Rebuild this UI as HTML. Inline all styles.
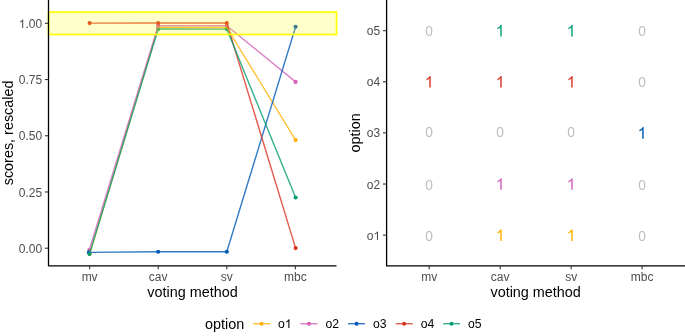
<!DOCTYPE html><html><head><meta charset="utf-8"><title>scores by voting method</title><style>html,body{margin:0;padding:0;background:#fff;overflow:hidden;}svg{display:block;will-change:transform;}</style></head><body>
<svg width="685" height="336" viewBox="0 0 685 336" font-family='"Liberation Sans", sans-serif'>
<rect width="685" height="336" fill="#fff"/>
<circle cx="89.60" cy="254.00" r="2.05" fill="#FFB000"/>
<circle cx="158.20" cy="27.50" r="2.05" fill="#FFB000"/>
<circle cx="226.80" cy="27.50" r="2.05" fill="#FFB000"/>
<circle cx="295.60" cy="140.10" r="2.05" fill="#FFB000"/>
<circle cx="89.30" cy="250.00" r="2.05" fill="#D35FB7"/>
<circle cx="158.20" cy="25.60" r="2.05" fill="#D35FB7"/>
<circle cx="226.80" cy="25.70" r="2.05" fill="#D35FB7"/>
<circle cx="295.60" cy="81.90" r="2.05" fill="#D35FB7"/>
<circle cx="88.90" cy="252.40" r="2.05" fill="#005AB5"/>
<circle cx="158.20" cy="251.70" r="2.05" fill="#005AB5"/>
<circle cx="226.80" cy="251.70" r="2.05" fill="#005AB5"/>
<circle cx="295.60" cy="26.80" r="2.05" fill="#005AB5"/>
<circle cx="89.60" cy="23.10" r="2.05" fill="#DC3220"/>
<circle cx="158.20" cy="23.00" r="2.05" fill="#DC3220"/>
<circle cx="226.80" cy="23.00" r="2.05" fill="#DC3220"/>
<circle cx="295.60" cy="248.10" r="2.05" fill="#DC3220"/>
<circle cx="89.50" cy="254.00" r="2.05" fill="#009E73"/>
<circle cx="158.20" cy="29.00" r="2.05" fill="#009E73"/>
<circle cx="226.80" cy="29.10" r="2.05" fill="#009E73"/>
<circle cx="295.60" cy="197.50" r="2.05" fill="#009E73"/>
<polyline points="89.60,254.00 158.20,27.50 226.80,27.50 295.60,140.10" fill="none" stroke="#FFB000" stroke-width="1.4" stroke-opacity="0.8" stroke-linejoin="round"/>
<polyline points="89.30,250.00 158.20,25.60 226.80,25.70 295.60,81.90" fill="none" stroke="#D35FB7" stroke-width="1.4" stroke-opacity="0.8" stroke-linejoin="round"/>
<polyline points="88.90,252.40 158.20,251.70 226.80,251.70 295.60,26.80" fill="none" stroke="#005AB5" stroke-width="1.4" stroke-opacity="0.8" stroke-linejoin="round"/>
<polyline points="89.60,23.10 158.20,23.00 226.80,23.00 295.60,248.10" fill="none" stroke="#DC3220" stroke-width="1.4" stroke-opacity="0.8" stroke-linejoin="round"/>
<polyline points="89.50,254.00 158.20,29.00 226.80,29.10 295.60,197.50" fill="none" stroke="#009E73" stroke-width="1.4" stroke-opacity="0.8" stroke-linejoin="round"/>
<rect x="48.50" y="12.05" width="288.00" height="22.49" fill="#FFFF00" fill-opacity="0.2" stroke="#FFFF00" stroke-width="1.7"/>
<path d="M48.5 0V265.9H336.5" fill="none" stroke="#000000" stroke-width="1.3" stroke-linecap="butt" stroke-linejoin="round"/>
<line x1="44.90" y1="23.30" x2="48.5" y2="23.30" stroke="#333333" stroke-width="1.1"/>
<text x="42.10" y="28" font-size="12" fill="#4D4D4D" text-anchor="end">.00</text>
<path transform="translate(18.75,28.00) scale(0.005859,-0.005859)" d="M763 0H583V1147Q518 1085 412.5 1023Q307 961 223 930V1104Q374 1175 487 1276Q600 1377 647 1472H763Z" fill="#4D4D4D"/>
<line x1="44.90" y1="79.52" x2="48.5" y2="79.52" stroke="#333333" stroke-width="1.1"/>
<text x="42.10" y="84" font-size="12" fill="#4D4D4D" text-anchor="end">0.75</text>
<line x1="44.90" y1="135.75" x2="48.5" y2="135.75" stroke="#333333" stroke-width="1.1"/>
<text x="42.10" y="140" font-size="12" fill="#4D4D4D" text-anchor="end">0.50</text>
<line x1="44.90" y1="191.97" x2="48.5" y2="191.97" stroke="#333333" stroke-width="1.1"/>
<text x="42.10" y="197" font-size="12" fill="#4D4D4D" text-anchor="end">0.25</text>
<line x1="44.90" y1="248.20" x2="48.5" y2="248.20" stroke="#333333" stroke-width="1.1"/>
<text x="42.10" y="253" font-size="12" fill="#4D4D4D" text-anchor="end">0.00</text>
<line x1="89.64" y1="265.9" x2="89.64" y2="269.30" stroke="#333333" stroke-width="1.1"/>
<text x="89.64" y="280.6" font-size="12" fill="#4D4D4D" text-anchor="middle">mv</text>
<line x1="158.21" y1="265.9" x2="158.21" y2="269.30" stroke="#333333" stroke-width="1.1"/>
<text x="158.21" y="280.6" font-size="12" fill="#4D4D4D" text-anchor="middle">cav</text>
<line x1="226.79" y1="265.9" x2="226.79" y2="269.30" stroke="#333333" stroke-width="1.1"/>
<text x="226.79" y="280.6" font-size="12" fill="#4D4D4D" text-anchor="middle">sv</text>
<line x1="295.36" y1="265.9" x2="295.36" y2="269.30" stroke="#333333" stroke-width="1.1"/>
<text x="295.36" y="280.6" font-size="12" fill="#4D4D4D" text-anchor="middle">mbc</text>
<text x="192.50" y="296.9" font-size="14.4" fill="#000" text-anchor="middle">voting method</text>
<text transform="translate(12.6,132.9) rotate(-90)" x="0" y="0" font-size="14.4" fill="#000" text-anchor="middle">scores, rescaled</text>
<path d="M386.6 0V265.9H685" fill="none" stroke="#000000" stroke-width="1.3" stroke-linejoin="round"/>
<line x1="383.00" y1="235.13" x2="386.6" y2="235.13" stroke="#333333" stroke-width="1.1"/>
<path transform="translate(373.53,240.00) scale(0.005859,-0.005859)" d="M763 0H583V1147Q518 1085 412.5 1023Q307 961 223 930V1104Q374 1175 487 1276Q600 1377 647 1472H763Z" fill="#4D4D4D"/>
<text x="373.53" y="240" font-size="12" fill="#4D4D4D" text-anchor="end">o</text>
<line x1="383.00" y1="184.02" x2="386.6" y2="184.02" stroke="#333333" stroke-width="1.1"/>
<text x="380.20" y="189" font-size="12" fill="#4D4D4D" text-anchor="end">o2</text>
<line x1="383.00" y1="132.90" x2="386.6" y2="132.90" stroke="#333333" stroke-width="1.1"/>
<text x="380.20" y="137" font-size="12" fill="#4D4D4D" text-anchor="end">o3</text>
<line x1="383.00" y1="81.78" x2="386.6" y2="81.78" stroke="#333333" stroke-width="1.1"/>
<text x="380.20" y="86" font-size="12" fill="#4D4D4D" text-anchor="end">o4</text>
<line x1="383.00" y1="30.67" x2="386.6" y2="30.67" stroke="#333333" stroke-width="1.1"/>
<text x="380.20" y="35" font-size="12" fill="#4D4D4D" text-anchor="end">o5</text>
<line x1="429.19" y1="265.9" x2="429.19" y2="269.30" stroke="#333333" stroke-width="1.1"/>
<text x="429.19" y="280.6" font-size="12" fill="#4D4D4D" text-anchor="middle">mv</text>
<line x1="500.16" y1="265.9" x2="500.16" y2="269.30" stroke="#333333" stroke-width="1.1"/>
<text x="500.16" y="280.6" font-size="12" fill="#4D4D4D" text-anchor="middle">cav</text>
<line x1="571.14" y1="265.9" x2="571.14" y2="269.30" stroke="#333333" stroke-width="1.1"/>
<text x="571.14" y="280.6" font-size="12" fill="#4D4D4D" text-anchor="middle">sv</text>
<line x1="642.11" y1="265.9" x2="642.11" y2="269.30" stroke="#333333" stroke-width="1.1"/>
<text x="642.11" y="280.6" font-size="12" fill="#4D4D4D" text-anchor="middle">mbc</text>
<text x="535.65" y="296.9" font-size="14.4" fill="#000" text-anchor="middle">voting method</text>
<text transform="translate(360.4,132.85) rotate(-90)" x="0" y="0" font-size="14.4" fill="#000" text-anchor="middle">option</text>
<text x="429.19" y="36" font-size="13.8" fill="#BEBEBE" text-anchor="middle">0</text>
<path transform="translate(495.66,36.49) scale(0.007910,-0.007910)" d="M763 0H583V1147Q518 1085 412.5 1023Q307 961 223 930V1104Q374 1175 487 1276Q600 1377 647 1472H763Z" fill="#009E73"/>
<path transform="translate(566.63,36.49) scale(0.007910,-0.007910)" d="M763 0H583V1147Q518 1085 412.5 1023Q307 961 223 930V1104Q374 1175 487 1276Q600 1377 647 1472H763Z" fill="#009E73"/>
<text x="642.11" y="36" font-size="13.8" fill="#BEBEBE" text-anchor="middle">0</text>
<path transform="translate(424.68,87.61) scale(0.007910,-0.007910)" d="M763 0H583V1147Q518 1085 412.5 1023Q307 961 223 930V1104Q374 1175 487 1276Q600 1377 647 1472H763Z" fill="#DC3220"/>
<path transform="translate(495.66,87.61) scale(0.007910,-0.007910)" d="M763 0H583V1147Q518 1085 412.5 1023Q307 961 223 930V1104Q374 1175 487 1276Q600 1377 647 1472H763Z" fill="#DC3220"/>
<path transform="translate(566.63,87.61) scale(0.007910,-0.007910)" d="M763 0H583V1147Q518 1085 412.5 1023Q307 961 223 930V1104Q374 1175 487 1276Q600 1377 647 1472H763Z" fill="#DC3220"/>
<text x="642.11" y="87" font-size="13.8" fill="#BEBEBE" text-anchor="middle">0</text>
<text x="429.19" y="137" font-size="13.8" fill="#BEBEBE" text-anchor="middle">0</text>
<text x="500.16" y="137" font-size="13.8" fill="#BEBEBE" text-anchor="middle">0</text>
<text x="571.14" y="137" font-size="13.8" fill="#BEBEBE" text-anchor="middle">0</text>
<path transform="translate(637.61,138.72) scale(0.007910,-0.007910)" d="M763 0H583V1147Q518 1085 412.5 1023Q307 961 223 930V1104Q374 1175 487 1276Q600 1377 647 1472H763Z" fill="#005AB5"/>
<text x="429.19" y="190" font-size="13.8" fill="#BEBEBE" text-anchor="middle">0</text>
<path transform="translate(495.66,189.84) scale(0.007910,-0.007910)" d="M763 0H583V1147Q518 1085 412.5 1023Q307 961 223 930V1104Q374 1175 487 1276Q600 1377 647 1472H763Z" fill="#D35FB7"/>
<path transform="translate(566.63,189.84) scale(0.007910,-0.007910)" d="M763 0H583V1147Q518 1085 412.5 1023Q307 961 223 930V1104Q374 1175 487 1276Q600 1377 647 1472H763Z" fill="#D35FB7"/>
<text x="642.11" y="190" font-size="13.8" fill="#BEBEBE" text-anchor="middle">0</text>
<text x="429.19" y="241" font-size="13.8" fill="#BEBEBE" text-anchor="middle">0</text>
<path transform="translate(495.66,240.95) scale(0.007910,-0.007910)" d="M763 0H583V1147Q518 1085 412.5 1023Q307 961 223 930V1104Q374 1175 487 1276Q600 1377 647 1472H763Z" fill="#FFB000"/>
<path transform="translate(566.63,240.95) scale(0.007910,-0.007910)" d="M763 0H583V1147Q518 1085 412.5 1023Q307 961 223 930V1104Q374 1175 487 1276Q600 1377 647 1472H763Z" fill="#FFB000"/>
<text x="642.11" y="241" font-size="13.8" fill="#BEBEBE" text-anchor="middle">0</text>
<text x="205.0" y="328.6" font-size="14.4" fill="#000">option</text>
<line x1="253.10" y1="323.7" x2="270.00" y2="323.7" stroke="#FFB000" stroke-width="1.4" stroke-opacity="0.8"/>
<circle cx="261.55" cy="323.7" r="2.05" fill="#FFB000"/>
<text x="278.10" y="328" font-size="12.2" fill="#000">o</text>
<path transform="translate(284.88,328.00) scale(0.005957,-0.005957)" d="M763 0H583V1147Q518 1085 412.5 1023Q307 961 223 930V1104Q374 1175 487 1276Q600 1377 647 1472H763Z" fill="#000"/>
<line x1="300.60" y1="323.7" x2="317.50" y2="323.7" stroke="#D35FB7" stroke-width="1.4" stroke-opacity="0.8"/>
<circle cx="309.05" cy="323.7" r="2.05" fill="#D35FB7"/>
<text x="325.60" y="328" font-size="12.2" fill="#000">o2</text>
<line x1="348.10" y1="323.7" x2="365.00" y2="323.7" stroke="#005AB5" stroke-width="1.4" stroke-opacity="0.8"/>
<circle cx="356.55" cy="323.7" r="2.05" fill="#005AB5"/>
<text x="373.10" y="328" font-size="12.2" fill="#000">o3</text>
<line x1="395.70" y1="323.7" x2="412.60" y2="323.7" stroke="#DC3220" stroke-width="1.4" stroke-opacity="0.8"/>
<circle cx="404.15" cy="323.7" r="2.05" fill="#DC3220"/>
<text x="420.70" y="328" font-size="12.2" fill="#000">o4</text>
<line x1="443.10" y1="323.7" x2="460.00" y2="323.7" stroke="#009E73" stroke-width="1.4" stroke-opacity="0.8"/>
<circle cx="451.55" cy="323.7" r="2.05" fill="#009E73"/>
<text x="468.10" y="328" font-size="12.2" fill="#000">o5</text>
</svg></body></html>
